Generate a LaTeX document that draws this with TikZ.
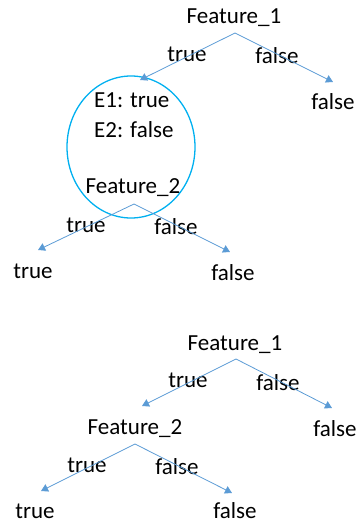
\documentclass[tikz,border=0pt]{standalone}
\usepackage{fontspec}
\setmainfont{Carlito}
\usetikzlibrary{arrows.meta,shapes.geometric}
\definecolor{arrowblue}{RGB}{91,155,213}
\definecolor{ringblue}{RGB}{0,176,240}
\tikzset{
  lbl/.style={anchor=base,inner sep=0pt,font=\fontsize{23}{27}\selectfont},
  edge/.style={draw=arrowblue,line width=0.8pt,-{Triangle[length=7pt,width=8pt]}}
}
\begin{document}
\begin{tikzpicture}[x=1pt,y=-1pt]
\useasboundingbox (0,0) rectangle (357,524);
% ---------- top tree ----------
\node[lbl] (f1a) at (234,24) {Feature\_1};
\coordinate (s1a) at (235,33);
\coordinate (l1a) at (140,80);
\coordinate (r1a) at (333,82);
\node[lbl] (t1a) at (187,62) {true};
\node[lbl] (fl1a) at (277,64) {false};
\node[lbl] (leafr1a) at (333,110) {false};
\node[draw=ringblue,line width=1.3pt,ellipse,minimum width=128pt,minimum height=142pt,inner sep=0pt] (ring) at (131,147) {};
\node[lbl,anchor=base west] (e1) at (94,108) {E1: true};
\node[lbl,anchor=base west] (e2) at (94,137) {E2: false};
\node[lbl] (f2a) at (133,193) {Feature\_2};
\coordinate (s2a) at (134,204);
\coordinate (l2a) at (38,250);
\coordinate (r2a) at (230,252);
\node[lbl] (t2a) at (86,232) {true};
\node[lbl] (fl2a) at (176,234) {false};
\node[lbl] (leaft2a) at (33,278) {true};
\node[lbl] (leaff2a) at (233,280) {false};
\draw[edge] (s1a) -- (l1a);
\draw[edge] (s1a) -- (r1a);
\draw[edge] (s2a) -- (l2a);
\draw[edge] (s2a) -- (r2a);
% ---------- bottom tree ----------
\node[lbl] (f1b) at (235,350) {Feature\_1};
\coordinate (s1b) at (236,359);
\coordinate (l1b) at (142,406);
\coordinate (r1b) at (332,408);
\node[lbl] (t1b) at (188,387) {true};
\node[lbl] (fl1b) at (278,390) {false};
\node[lbl] (f2b) at (135,434) {Feature\_2};
\node[lbl] (leafr1b) at (335,436) {false};
\coordinate (s2b) at (135,444);
\coordinate (l2b) at (41,491);
\coordinate (r2b) at (232,493);
\node[lbl] (t2b) at (87,472) {true};
\node[lbl] (fl2b) at (177,474) {false};
\node[lbl] (leaft2b) at (35,518) {true};
\node[lbl] (leaff2b) at (235,518) {false};
\draw[edge] (s1b) -- (l1b);
\draw[edge] (s1b) -- (r1b);
\draw[edge] (s2b) -- (l2b);
\draw[edge] (s2b) -- (r2b);
\end{tikzpicture}
\end{document}
